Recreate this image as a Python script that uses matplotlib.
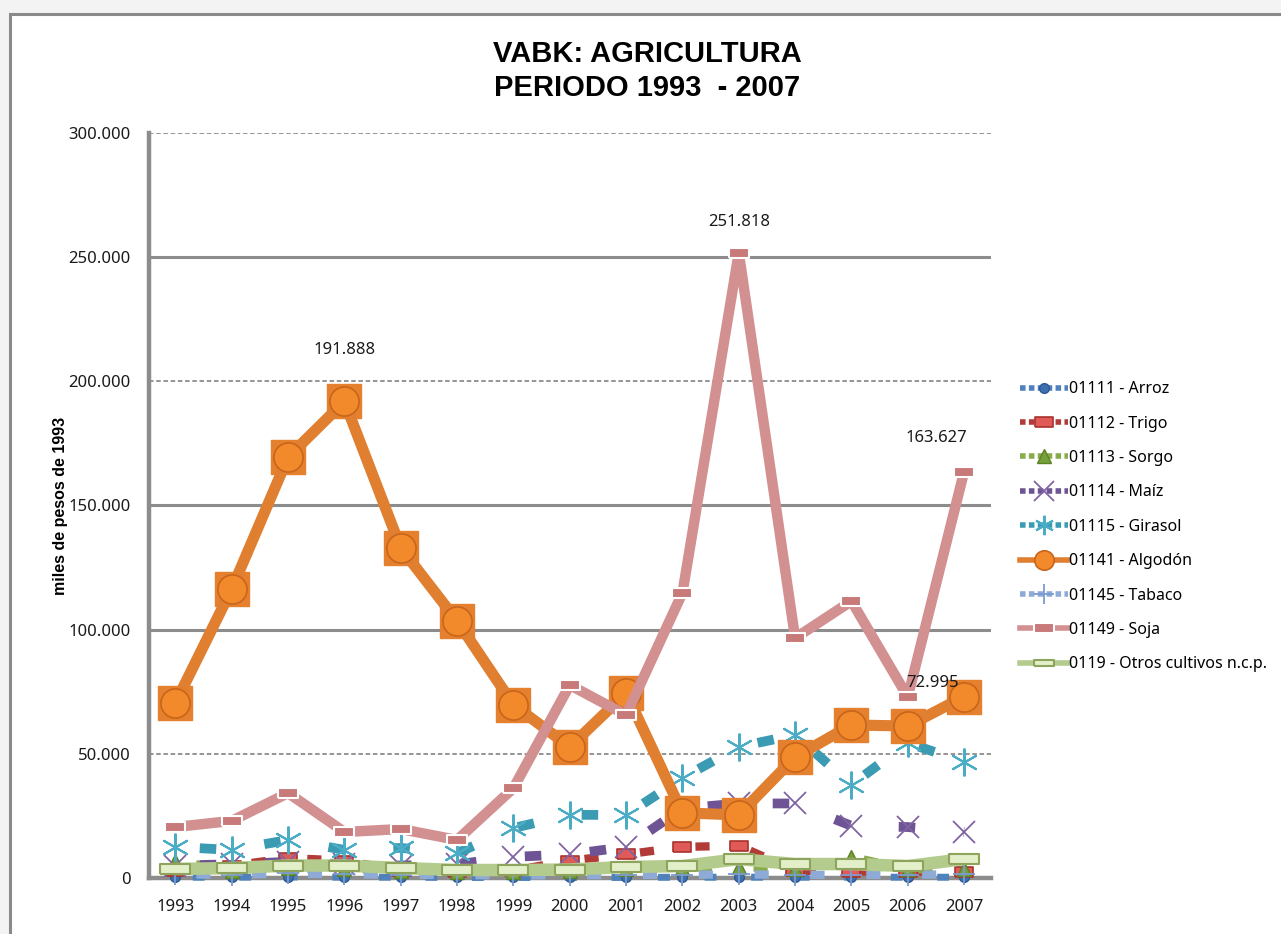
import matplotlib
import matplotlib.pyplot as plt
import matplotlib.path as mpath
from matplotlib.patches import Rectangle
from matplotlib.lines import Line2D
from matplotlib.ticker import FuncFormatter

matplotlib.use('AGG')

# Datos (miles de pesos de 1993)
years = [1993, 1994, 1995, 1996, 1997, 1998, 1999, 2000, 2001, 2002, 2003, 2004, 2005, 2006, 2007]
arroz = [300, 300, 400, 300, 300, 200, 200, 200, 200, 300, 300, 300, 300, 300, 300]
trigo = [3000, 5000, 8000, 7000, 3000, 2500, 3000, 7000, 9500, 12500, 13000, 3000, 2500, 2500, 2500]
sorgo = [7000, 3000, 4000, 3500, 3000, 2500, 2500, 3000, 3500, 4000, 4500, 3500, 8500, 3500, 3500]
maiz = [5000, 5500, 6500, 5500, 5000, 5500, 8500, 9500, 12500, 28000, 30000, 30000, 21000, 20500, 18500]
girasol = [12500, 11300, 15300, 11300, 12100, 10000, 20100, 25400, 25400, 40300, 52800, 57600, 37500, 54400, 46700]
algodon = [70500, 116400, 169500, 191888, 132900, 103500, 69700, 52800, 74500, 26200, 25400, 48700, 61600, 61200, 72995]
tabaco = [1500, 1200, 1800, 1400, 1300, 1200, 1000, 1100, 1200, 1300, 1400, 1300, 1200, 1300, 1400]
soja = [20500, 23000, 34200, 18500, 19700, 15300, 36200, 77700, 65600, 114800, 251818, 96600, 111500, 72900, 163627]
otros = [3600, 4000, 5000, 5000, 4000, 3200, 3200, 3400, 4400, 4800, 7600, 5600, 5600, 4800, 7600]

y_ticks = [0, 50000, 100000, 150000, 200000, 250000, 300000]

FONT = ['Noto Sans', 'DejaVu Sans']
BOLD_FONT = ['Liberation Sans', 'DejaVu Sans']
TITLE_FONT = ['Liberation Sans', 'DejaVu Sans']

# marcadores rectangulares
rect_wide = mpath.Path([[-1.6, -0.55], [1.6, -0.55], [1.6, 0.55], [-1.6, 0.55], [-1.6, -0.55]])
rect_mid = mpath.Path([[-1.2, -0.6], [1.2, -0.6], [1.2, 0.6], [-1.2, 0.6], [-1.2, -0.6]])

DASH = (4.2, (1.7, 5.0))

fig = plt.figure(figsize=(12.81, 9.34), dpi=100, facecolor='#f3f3f3')
fig.patches.append(Rectangle((0.0078, -0.02), 1.1, 1.005, transform=fig.transFigure,
                             facecolor='white', edgecolor='#8a8a8a', linewidth=2.2, zorder=-5))

ax = fig.add_axes([0.1163, 0.06, 0.657, 0.7976])
ax.set_zorder(2)
ax.set_facecolor('none')

ax.set_xlim(1992.53, 2007.47)
ax.set_ylim(0, 300000)

# grilla
for t in y_ticks[1:]:
    if t in (100000, 150000, 250000):
        ax.axhline(t, color='#8c8c8c', lw=2.2, zorder=1)
    else:
        ax.axhline(t, color='#8c8c8c', lw=1.3, ls=(0, (2.5, 1.5)), zorder=1)

series = [
    ('01111 - Arroz', arroz, '#4f81bd', dict(marker='o', ms=7, mfc='#3e70b0', mec='#2d5a92'), DASH, 5),
    ('01112 - Trigo', trigo, '#b23b37', dict(marker=rect_mid, ms=13, mfc='#e05a57', mec='#a8322e', mew=1.2), DASH, 6),
    ('01113 - Sorgo', sorgo, '#8aab4c', dict(marker='^', ms=10, mfc='#76a03a', mec='#5c8228'), DASH, 6),
    ('01114 - Maíz', maiz, '#6e5494', dict(marker='x', ms=16, mec='#8064a2', mew=1.3), DASH, 7),
    ('01115 - Girasol', girasol, '#3b9bb2', dict(marker=(6, 2, 0), ms=20, mec='#4bacc6', mew=1.5), DASH, 7),
    ('01141 - Algodón', algodon, '#e07f30', dict(marker='o', ms=21, mfc='#f28a2c', mec='#c8651a', mew=1.2), '-', 8),
    ('01145 - Tabaco', tabaco, '#8eaad6', dict(marker='+', ms=16, mec='#7b9bd0', mew=1.3), DASH, 6),
    ('01149 - Soja', soja, '#d39090', dict(marker=rect_mid, ms=14, mfc='#c87a7a', mec='white', mew=1.5), '-', 7.5),
    ('0119 - Otros cultivos n.c.p.', otros, '#b3cb8c', dict(marker=rect_wide, ms=22, mfc='#e3efc9', mec='#8ea35c', mew=1.5), '-', 9),
]

handles = []
for i, (name, vals, color, mk, ls, lw) in enumerate(series):
    if name.startswith('01141'):
        # fondo cuadrado naranja de los marcadores
        ax.plot(years, vals, ls='none', marker='s', ms=24, mfc='#e5802e', mec='#e5802e',
                zorder=3 + i * 0.1 + 0.05, clip_on=False)
    line, = ax.plot(years, vals, color=color, lw=lw, ls=ls, label=name,
                    zorder=3 + i * 0.1 + 0.06, clip_on=False, solid_capstyle='butt', **mk)
    handles.append(line)

# etiquetas de datos
def fmt(v):
    return f"{v:,.0f}".replace(",", ".")

labels = [(algodon, 3, (0, 37)), (soja, 10, (0, 22)), (soja, 14, (-20, 24)), (algodon, 14, (-23, 10))]
for vals, idx, off in labels:
    ax.annotate(fmt(vals[idx]), (years[idx], vals[idx]), xytext=off, textcoords='offset points',
                ha='center', va='center', fontsize=12, family=FONT, color='#1a1a1a', zorder=10)

ax.set_yticks(y_ticks)
ax.yaxis.set_major_formatter(FuncFormatter(lambda v, p: fmt(v)))
ax.set_xticks(years)
ax.tick_params(axis='both', length=0, labelsize=12, labelcolor='#1a1a1a')
ax.tick_params(axis='y', pad=13)
ax.tick_params(axis='x', pad=15)
for lab in ax.get_xticklabels() + ax.get_yticklabels():
    lab.set_family(FONT)

for s in ['top', 'right']:
    ax.spines[s].set_visible(False)
ax.spines['left'].set_color('#8c8c8c')
ax.spines['left'].set_linewidth(3.2)
ax.spines['bottom'].set_color('#8c8c8c')
ax.spines['bottom'].set_linewidth(3.2)
ax.spines['bottom'].set_zorder(1)

ax.set_ylabel('miles de pesos de 1993', fontsize=11.5, fontweight='bold', family=BOLD_FONT)
ax.yaxis.set_label_coords(-0.096, 0.5)

fig.text(0.505, 0.924, 'VABK: AGRICULTURA\nPERIODO 1993  - 2007', ha='center', va='center',
         fontsize=21, fontweight='bold', family=TITLE_FONT, linespacing=1.3)

# manejadores de leyenda: linea cortada con marcador al medio
leg_handles = []
for (name, vals, color, mk, ls, lw), h in zip(series, handles):
    leg_ls = (0, (1.0, 0.6)) if ls != '-' else '-'
    mk2 = dict(mk)
    mk2['ms'] = min(mk['ms'], 14)
    leg_handles.append(Line2D([], [], color=color, lw=min(lw, 4), ls=leg_ls, **mk2))

fig.legend(handles=leg_handles, labels=[s[0] for s in series], loc='center left',
           bbox_to_anchor=(0.791, 0.436), frameon=False,
           prop={'family': FONT, 'size': 11.5}, handlelength=3.0, handletextpad=0.1,
           labelspacing=1.15, borderaxespad=0)

plt.savefig('out.png', dpi=100, facecolor=fig.get_facecolor())
